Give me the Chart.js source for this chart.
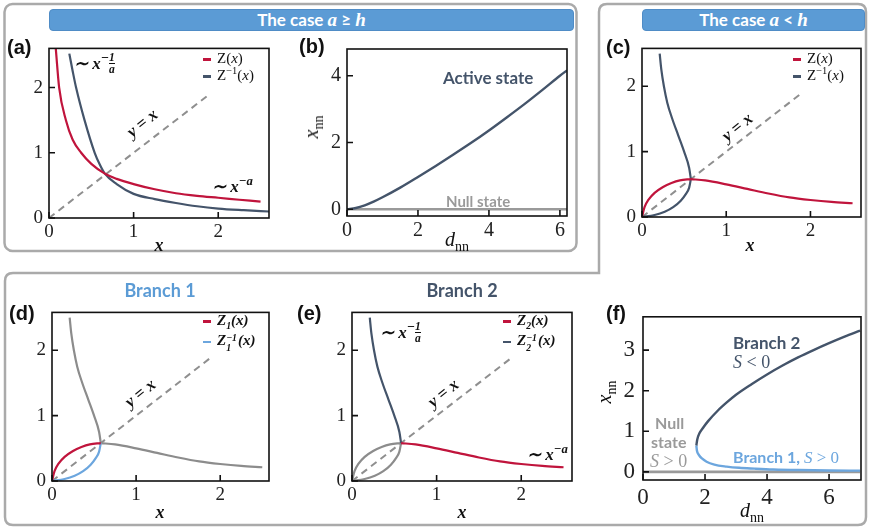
<!DOCTYPE html>
<html>
<head>
<meta charset="utf-8">
<script src="https://cdn.jsdelivr.net/npm/chart.js@4.4.1/dist/chart.umd.min.js"></script>
<style>
  body { margin: 0; background: #fff; }
  #fig { position: relative; width: 872px; height: 531px; overflow: hidden; font-family: "Liberation Serif", serif; color: #111; }
  .lbl { position: absolute; white-space: nowrap; line-height: 1; }
  .pl { font-family: "Liberation Sans", Arial, sans-serif; font-weight: bold; font-size: 20px; color: #111; }
  .banner { position: absolute; top: 9px; height: 20px; background: #5b9bd5; border: 1px solid #4f8cc6; border-radius: 4px;
            color: #fff; font-family: Lato, sans-serif; font-weight: bold; font-size: 17px; text-align: center; line-height: 20px; }
  .banner .m { font-family: "Liberation Serif", serif; font-style: italic; font-size: 19px; }
  .mi { font-family: "Liberation Serif", serif; font-style: italic; font-weight: bold; }
  .ann { font-family: "Liberation Serif", serif; font-size: 17px; }
  .rot { transform: translate(-50%, -50%) rotate(-39deg); font-size: 17px; }
  .xt { transform: translateX(-50%); font-size: 18px; }
  .leg { font-family: "Liberation Serif", serif; font-size: 15px; }
  .leg .d { display: inline-block; width: 8px; height: 2.5px; vertical-align: middle; margin-right: 6px; }
  .word { font-family: Lato, sans-serif; font-weight: bold; }
  sup, sub { line-height: 0; }
  .fr { display: inline-flex; flex-direction: column; vertical-align: 0.1em; font-size: 0.85em; line-height: 0.95; text-align: center; }
  .fr span:first-child { border-bottom: 1px solid #111; }
  .ss { display: inline-flex; flex-direction: column; vertical-align: 0.45em; font-size: 0.65em; line-height: 1; margin-right: 1px; }
  .vt { transform: translate(-50%, -50%) rotate(-90deg); }
</style>
</head>
<body>
<div id="fig">
  <svg width="872" height="531" style="position:absolute;left:0;top:0">
    <rect x="4.5" y="4" width="572" height="247" rx="8" fill="none" stroke="#aaa" stroke-width="2.5"/>
    <path d="M599,273 L599,12 Q599,4 607,4 L858,4 Q866,4 866,12 L866,517 Q866,525 858,525 L13,525 Q5,525 5,517 L5,281 Q5,273 13,273 Z"
          fill="none" stroke="#aaa" stroke-width="2.5"/>
  </svg>

  <div class="banner" style="left:49px;width:523px">The case <span class="m">a</span> ≥ <span class="m">h</span></div>
  <div class="banner" style="left:642px;width:221px">The case <span class="m">a</span> &lt; <span class="m">h</span></div>

  <!-- panel letters -->
  <div class="lbl pl" style="left:7px;top:37px">(a)</div>
  <div class="lbl pl" style="left:299px;top:36px">(b)</div>
  <div class="lbl pl" style="left:606px;top:37px">(c)</div>
  <div class="lbl pl" style="left:9px;top:303px">(d)</div>
  <div class="lbl pl" style="left:297px;top:303px">(e)</div>
  <div class="lbl pl" style="left:606px;top:303px">(f)</div>

  <div class="lbl word" style="left:160px;top:281px;font-size:18px;color:#5b9bd5;transform:translateX(-50%)">Branch 1</div>
  <div class="lbl word" style="left:462px;top:281px;font-size:18px;color:#44546a;transform:translateX(-50%)">Branch 2</div>
</div>

<script>
// ---- data ----
// (a) the case a >= h
const aZx    = [0.08, 0.12, 0.2, 0.28, 0.38, 0.5, 0.66, 0.8, 1.0, 1.25, 1.5, 1.75, 2.0, 2.25, 2.5];
const aZy    = [2.6, 2.0, 1.5, 1.2, 1.0, 0.83, 0.68, 0.6, 0.52, 0.44, 0.38, 0.34, 0.31, 0.28, 0.25];
const aInvX  = [0.24, 0.28, 0.32, 0.42, 0.54, 0.6, 0.66, 0.8, 1.0, 1.25, 1.5, 1.75, 2.0, 2.3, 2.6];
const aInvY  = [2.52, 2.25, 2.0, 1.5, 1.0, 0.82, 0.68, 0.52, 0.37, 0.29, 0.23, 0.18, 0.145, 0.12, 0.1];
const diagX  = [0, 1.9];
const diagY  = [0, 1.9];

// (b) x_nn vs d_nn
const bD      = [0, 0.25, 0.5, 0.75, 1, 1.5, 2, 2.5, 3, 3.5, 4, 4.5, 5, 5.5, 6, 6.2];
const bActive = [0, 0.04, 0.12, 0.23, 0.36, 0.65, 0.97, 1.3, 1.64, 1.99, 2.36, 2.75, 3.15, 3.57, 4.0, 4.16];
const bNullD  = [0, 6.2];
const bNull   = [0, 0];

// (c)-(e) the case a < h : Z(x) rising / decaying parts and their mirror images
const riseX  = [0, 0.03, 0.08, 0.15, 0.25, 0.35, 0.45, 0.58];
const riseY  = [0, 0.15, 0.27, 0.37, 0.46, 0.52, 0.56, 0.58];
const decayX = [0.58, 0.75, 1.0, 1.25, 1.5, 1.75, 2.0, 2.25, 2.5];
const decayY = [0.58, 0.56, 0.5, 0.43, 0.36, 0.3, 0.26, 0.23, 0.21];
const lowX   = [0, 0.15, 0.27, 0.37, 0.46, 0.52, 0.56, 0.58];
const lowY   = [0, 0.03, 0.08, 0.15, 0.25, 0.35, 0.45, 0.58];
const upX    = [0.58, 0.56, 0.5, 0.43, 0.36, 0.3, 0.26, 0.23, 0.21];
const upY    = [0.58, 0.75, 1.0, 1.25, 1.5, 1.75, 2.0, 2.25, 2.5];

// (f) bifurcation
const fB2D   = [1.72, 1.75, 1.82, 1.95, 2.1, 2.4, 2.7, 3, 3.5, 4, 4.5, 5, 5.5, 6, 6.5, 7];
const fB2X   = [0.65, 0.8, 0.95, 1.1, 1.25, 1.5, 1.71, 1.9, 2.16, 2.4, 2.62, 2.82, 3.0, 3.17, 3.33, 3.48];
const fB1D   = [1.72, 1.74, 1.8, 1.9, 2.05, 2.3, 2.7, 3.1, 3.6, 4.2, 5, 6, 7];
const fB1X   = [0.65, 0.52, 0.42, 0.33, 0.25, 0.18, 0.13, 0.1, 0.08, 0.06, 0.045, 0.035, 0.03];
const fNullD = [0, 7];
const fNull  = [0, 0];

// tick labels
const ticksX012 = [0, 1, 2];
const ticksY012 = [0, 1, 2];
const ticksB_X  = [0, 2, 4, 6];
const ticksB_Y  = [0, 2, 4];
const ticksF_X  = [0, 2, 4, 6];
const ticksF_Y  = [0, 1, 2, 3];

const RED = '#c0143c', NAVY = '#44546a', SKY = '#6ca6de', GREY = '#8c8c8c';

const pts = (xs, ys) => xs.map((x, i) => ({ x, y: ys[i] }));
const line = (xs, ys, color, extra) => Object.assign({
    data: pts(xs, ys), showLine: true, borderColor: color, borderWidth: 2.2,
    pointRadius: 0, cubicInterpolationMode: 'monotone', fill: false
}, extra || {});
const dashed = () => line(diagX, diagY, '#8f8f8f', { borderDash: [7, 5], cubicInterpolationMode: 'default', tension: 0, borderWidth: 2 });

// draws the black box and inward tick marks
const frame = {
    id: 'frame',
    afterDraw(chart) {
        const { ctx, chartArea: a, scales } = chart;
        ctx.save();
        ctx.strokeStyle = '#111';
        ctx.lineWidth = 1.6;
        ctx.strokeRect(a.left, a.top, a.right - a.left, a.bottom - a.top);
        ctx.beginPath();
        scales.x.ticks.forEach(t => {
            const p = scales.x.getPixelForValue(t.value);
            ctx.moveTo(p, a.bottom); ctx.lineTo(p, a.bottom - 6);
        });
        scales.y.ticks.forEach(t => {
            const p = scales.y.getPixelForValue(t.value);
            ctx.moveTo(a.left, p); ctx.lineTo(a.left + 6, p);
        });
        ctx.stroke();
        ctx.restore();
    }
};

const PAD_L = 40, PAD_T = 8, PAD_R = 8, PAD_B = 30;
const fig = document.getElementById('fig');

function panel(rect, datasets, xr, yr, xTicks, yTicks, fontSize, pads) {
    const [L, T, R, B] = rect;
    const w = R - L + PAD_L + PAD_R, h = B - T + PAD_T + PAD_B;
    const wrap = document.createElement('div');
    wrap.style.cssText = `position:absolute;left:${L - PAD_L}px;top:${T - PAD_T}px;width:${w}px;height:${h}px`;
    const cv = document.createElement('canvas');
    cv.width = w; cv.height = h;
    cv.style.width = w + 'px'; cv.style.height = h + 'px';
    wrap.appendChild(cv);
    fig.insertBefore(wrap, fig.children[1]);
    const tickFont = { family: "'Liberation Serif', 'Times New Roman', serif", size: fontSize };
    new Chart(cv, {
        type: 'scatter',
        data: { datasets },
        options: {
            responsive: false,
            animation: false,
            layout: { padding: { top: PAD_T, right: PAD_R, left: 0, bottom: 0 } },
            plugins: { legend: { display: false }, tooltip: { enabled: false } },
            scales: {
                x: {
                    type: 'linear', min: xr[0], max: xr[1],
                    afterFit: s => { s.height = PAD_B; },
                    afterBuildTicks: s => { s.ticks = xTicks.map(v => ({ value: v })); },
                    grid: { display: false, drawTicks: false },
                    border: { display: false },
                    ticks: { font: tickFont, color: '#222', padding: pads[0], maxRotation: 0 }
                },
                y: {
                    type: 'linear', min: yr[0], max: yr[1],
                    afterFit: s => { s.width = PAD_L; },
                    afterBuildTicks: s => { s.ticks = yTicks.map(v => ({ value: v })); },
                    grid: { display: false, drawTicks: false },
                    border: { display: false },
                    ticks: { font: tickFont, color: '#222', padding: pads[1] }
                }
            }
        },
        plugins: [frame]
    });
}

// (a)
panel([49, 39, 269, 218], [
    line(aZx, aZy, RED),
    line(aInvX, aInvY, NAVY),
    dashed()
], [0, 2.6], [0, 2.6], ticksX012, ticksY012, 19, [3, 6]);

// (b)
panel([347, 39, 567, 216], [
    line(bD, bActive, NAVY, { borderWidth: 2.4 }),
    line(bNullD, bNull, '#9a9a9a', { borderWidth: 2.6 })
], [0, 6.2], [-0.2, 4.8], ticksB_X, ticksB_Y, 20, [3, 6]);

// (c)
panel([642, 39, 861, 217], [
    line(riseX, riseY, RED), line(decayX, decayY, RED),
    line(lowX, lowY, NAVY), line(upX, upY, NAVY),
    dashed()
], [0, 2.6], [0, 2.58], ticksX012, ticksY012, 19, [3, 6]);

// (d) branch 1
panel([52, 303, 269, 481], [
    line(riseX, riseY, RED), line(lowX, lowY, SKY),
    line(decayX, decayY, GREY), line(upX, upY, GREY),
    dashed()
], [0, 2.58], [0, 2.58], ticksX012, ticksY012, 19, [3, 6]);

// (e) branch 2
panel([352, 303, 572, 481], [
    line(decayX, decayY, RED), line(upX, upY, NAVY),
    line(riseX, riseY, GREY), line(lowX, lowY, GREY),
    dashed()
], [0, 2.6], [0, 2.58], ticksX012, ticksY012, 19, [3, 6]);

// (f)
panel([643, 303, 861, 480], [
    line(fB2D, fB2X, NAVY, { borderWidth: 2.4 }),
    line(fB1D, fB1X, SKY, { borderWidth: 2.4 }),
    line(fNullD, fNull, '#9a9a9a', { borderWidth: 2.6 })
], [0, 7.03], [-0.2, 3.82], ticksF_X, ticksF_Y, 23, [4, 8]);
</script>

<script>
// text overlays (math with sub/superscripts)
const txt = [
  // (a)
  '<div class="lbl ann mi" style="left:74px;top:52px">∼ x<sup style="font-size:0.8em">−<span class="fr"><span>1</span><span>a</span></span></sup></div>',
  '<div class="lbl ann mi" style="left:212px;top:178px">∼ x<sup style="font-size:0.75em">−a</sup></div>',
  '<div class="lbl mi rot" style="left:142px;top:123px">y = x</div>',
  '<div class="lbl leg" style="left:203px;top:51px"><i class="d" style="background:' + RED + '"></i>Z(<i>x</i>)</div>',
  '<div class="lbl leg" style="left:203px;top:68px"><i class="d" style="background:' + NAVY + '"></i>Z<sup style="font-size:0.7em">−1</sup>(<i>x</i>)</div>',
  '<div class="lbl mi xt" style="left:159px;top:236px">x</div>',
  // (b)
  '<div class="lbl word" style="left:443px;top:69px;font-size:17px;color:' + NAVY + '">Active state</div>',
  '<div class="lbl word" style="left:446px;top:194px;font-size:15px;color:#9a9a9a">Null state</div>',
  '<div class="lbl vt" style="left:311px;top:127px;font-size:20px"><i>x</i><sub style="font-size:0.7em">nn</sub></div>',
  '<div class="lbl" style="left:445px;top:229px;font-size:20px"><i>d</i><sub style="font-size:0.7em">nn</sub></div>',
  // (c)
  '<div class="lbl mi rot" style="left:737px;top:127px">y = x</div>',
  '<div class="lbl leg" style="left:793px;top:51px"><i class="d" style="background:' + RED + '"></i>Z(<i>x</i>)</div>',
  '<div class="lbl leg" style="left:793px;top:68px"><i class="d" style="background:' + NAVY + '"></i>Z<sup style="font-size:0.7em">−1</sup>(<i>x</i>)</div>',
  '<div class="lbl mi xt" style="left:750px;top:236px">x</div>',
  // (d)
  '<div class="lbl mi rot" style="left:140px;top:393px">y = x</div>',
  '<div class="lbl leg mi" style="left:203px;top:313px"><i class="d" style="background:' + RED + '"></i>Z<sub style="font-size:0.65em">1</sub>(x)</div>',
  '<div class="lbl leg mi" style="left:203px;top:333px"><i class="d" style="background:' + SKY + '"></i>Z<span class="ss"><span>−1</span><span>1</span></span>(x)</div>',
  '<div class="lbl mi xt" style="left:160px;top:503px">x</div>',
  // (e)
  '<div class="lbl ann mi" style="left:380px;top:321px">∼ x<sup style="font-size:0.8em">−<span class="fr"><span>1</span><span>a</span></span></sup></div>',
  '<div class="lbl ann mi" style="left:527px;top:446px">∼ x<sup style="font-size:0.75em">−a</sup></div>',
  '<div class="lbl mi rot" style="left:443px;top:393px">y = x</div>',
  '<div class="lbl leg mi" style="left:503px;top:313px"><i class="d" style="background:' + RED + '"></i>Z<sub style="font-size:0.65em">2</sub>(x)</div>',
  '<div class="lbl leg mi" style="left:503px;top:333px"><i class="d" style="background:' + NAVY + '"></i>Z<span class="ss"><span>−1</span><span>2</span></span>(x)</div>',
  '<div class="lbl mi xt" style="left:462px;top:503px">x</div>',
  // (f)
  '<div class="lbl word" style="left:733px;top:334px;font-size:17px;color:' + NAVY + '">Branch 2</div>',
  '<div class="lbl" style="left:733px;top:353px;font-size:18px;color:' + NAVY + '"><i>S</i> &lt; 0</div>',
  '<div class="lbl word" style="left:655px;top:415px;font-size:16px;color:#9a9a9a">Null</div>',
  '<div class="lbl word" style="left:651px;top:434px;font-size:16px;color:#9a9a9a">state</div>',
  '<div class="lbl" style="left:650px;top:452px;font-size:18px;color:#9a9a9a"><i>S</i> &gt; 0</div>',
  '<div class="lbl word" style="left:733px;top:449px;font-size:16px;color:' + SKY + '">Branch 1, <span style="font-family:Liberation Serif;font-weight:normal;font-size:17px"><i>S</i> &gt; 0</span></div>',
  '<div class="lbl vt" style="left:604px;top:392px;font-size:20px"><i>x</i><sub style="font-size:0.7em">nn</sub></div>',
  '<div class="lbl" style="left:740px;top:500px;font-size:20px"><i>d</i><sub style="font-size:0.7em">nn</sub></div>'
];
document.getElementById('fig').insertAdjacentHTML('beforeend', txt.join(''));
</script>
</body>
</html>
